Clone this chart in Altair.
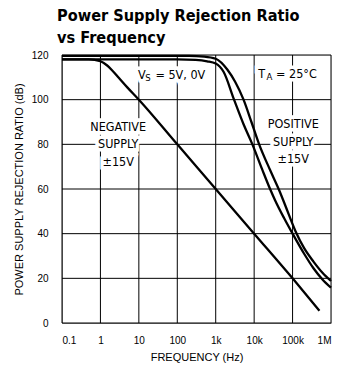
import altair as alt
import pandas as pd

# Frequency axis ticks (Hz) and their printed labels
x_ticks = [0.1, 1, 10, 100, 1e3, 1e4, 1e5, 1e6]
x_tick_labels = ["0.1", "1", "10", "100", "1k", "10k", "100k", "1M"]
y_ticks = [0, 20, 40, 60, 80, 100, 120]

# PSRR curves (frequency in Hz, rejection in dB)
neg_freq = [0.1, 0.5, 1, 1.5, 2, 3, 5, 10, 100, 1e3, 1e4, 1e5, 5e5]
neg_db = [118, 118, 117.2, 115.3, 113.2, 109.8, 105.5, 100, 80, 60, 40, 20, 5.5]

vs_freq = [0.1, 100, 300, 600, 1e3, 1.6e3, 3e3, 5.3e3, 9e3, 1.6e4, 2.6e4,
           3.5e4, 6e4, 1e5, 2e5, 3.5e5, 6e5, 1e6]
vs_db = [118, 118, 117.8, 117.2, 116.2, 112.5, 100, 89, 80, 69, 60,
         55, 47, 40, 31, 24.5, 19.5, 15.8]

pos_freq = [0.1, 200, 500, 1e3, 2e3, 3.2e3, 5.3e3, 8.5e3, 1.35e4, 2.6e4, 4.6e4,
            6.5e4, 1.2e5, 2e5, 3.5e5, 6e5, 1e6]
pos_db = [119.6, 119.6, 119.3, 118.3, 113.5, 108, 100, 90, 80, 68.5, 59,
          52.5, 41, 33.5, 27.5, 22.5, 18.8]

curves = pd.concat([
    pd.DataFrame({"series": "negative", "f": neg_freq, "db": neg_db}),
    pd.DataFrame({"series": "vs", "f": vs_freq, "db": vs_db}),
    pd.DataFrame({"series": "positive", "f": pos_freq, "db": pos_db}),
])

# Multi-line annotations, anchored at their first line
ann_text = ["NEGATIVE\nSUPPLY\n±15V", "POSITIVE\nSUPPLY\n±15V"]
ann_freq = [2.9, 1.04e5]
ann_db = [87.8, 89.1]

# Subscripted labels built from pieces: text, frequency, dB, font size
sub_text = ["V", "S", "= 5V, 0V", "T", "A", "= 25°C"]
sub_freq = [9.5, 14.6, 27, 1.27e4, 2.1e4, 3.7e4]
sub_db = [111.2, 109.6, 111.2, 111.6, 110.0, 111.6]
sub_size = [12.5, 9.5, 12.5, 12.5, 9.5, 12.5]

ann = pd.DataFrame({"t": ann_text, "f": ann_freq, "db": ann_db})
sub = pd.DataFrame({"t": sub_text, "f": sub_freq, "db": sub_db, "s": sub_size})
vgrid = pd.DataFrame({"f": x_ticks})
hgrid = pd.DataFrame({"db": y_ticks})

FONT = "'Liberation Sans Narrow', 'DejaVu Sans Condensed', 'Roboto Condensed', 'Liberation Sans', sans-serif"

label_list = "[" + ",".join(f"'{l}'" for l in x_tick_labels) + "]"
label_expr = f"{label_list}[round(log(datum.value)/LN10) + 1]"

xscale = alt.Scale(type="log", domain=[0.1, 1e6], nice=False)
yscale = alt.Scale(domain=[0, 120], nice=False)

x = alt.X(
    "f:Q",
    scale=xscale,
    axis=alt.Axis(
        values=x_ticks,
        labelExpr=label_expr,
        title="FREQUENCY (Hz)",
        titleFontWeight="normal",
        grid=False,
        ticks=False,
        labelPadding=12,
        titlePadding=6,
    ),
)
y = alt.Y(
    "db:Q",
    scale=yscale,
    axis=alt.Axis(
        values=y_ticks,
        title="POWER SUPPLY REJECTION RATIO (dB)",
        titleFontWeight="normal",
        grid=False,
        ticks=False,
        labelPadding=14,
        titlePadding=7,
    ),
)

vlines = alt.Chart(vgrid).mark_rule(color="black", strokeWidth=1).encode(x=x)
hlines = alt.Chart(hgrid).mark_rule(color="black", strokeWidth=1).encode(y=y)

lines = alt.Chart(curves).mark_line(
    color="black", strokeWidth=2.3, interpolate="monotone"
).encode(x=x, y=y, detail="series:N")

text_style = dict(font=FONT, fontSize=12.5, lineHeight=17.5, lineBreak="\n",
                  align="center", baseline="middle")
halo = alt.Chart(ann).mark_text(
    color="white", stroke="white", strokeWidth=7, **text_style
).encode(x=x, y=y, text="t:N")
words = alt.Chart(ann).mark_text(color="black", **text_style).encode(
    x=x, y=y, text="t:N")

size = alt.Size("s:Q", scale=None, legend=None)
sub_halo = alt.Chart(sub).mark_text(
    font=FONT, align="left", baseline="middle",
    color="white", stroke="white", strokeWidth=7,
).encode(x=x, y=y, text="t:N", size=size)
sub_words = alt.Chart(sub).mark_text(
    font=FONT, align="left", baseline="middle", color="black",
).encode(x=x, y=y, text="t:N", size=size)

chart = alt.layer(vlines, hlines, halo, sub_halo, lines, words, sub_words).properties(
    width=269,
    height=268,
    autosize=alt.AutoSizeParams(type="none"),
    padding={"left": 62, "top": 55, "right": 7, "bottom": 44},
    title=alt.TitleParams(
        text=["Power Supply Rejection Ratio", "vs Frequency"],
        anchor="start",
        frame="group",
        font=FONT,
        fontSize=16.2,
        fontWeight="bold",
        lineHeight=22,
        color="black",
        dx=-5,
        offset=4,
    ),
).configure_view(
    stroke="black", strokeWidth=1.5
).configure_axis(
    domainColor="black",
    domainWidth=2.2,
    labelFont=FONT,
    labelFontSize=13,
    labelColor="black",
    titleFont=FONT,
    titleFontSize=12,
    titleFontWeight="normal",
    titleColor="black",
).configure(background="white")

chart.save("out.html", embed_options={"renderer": "svg", "actions": False})
